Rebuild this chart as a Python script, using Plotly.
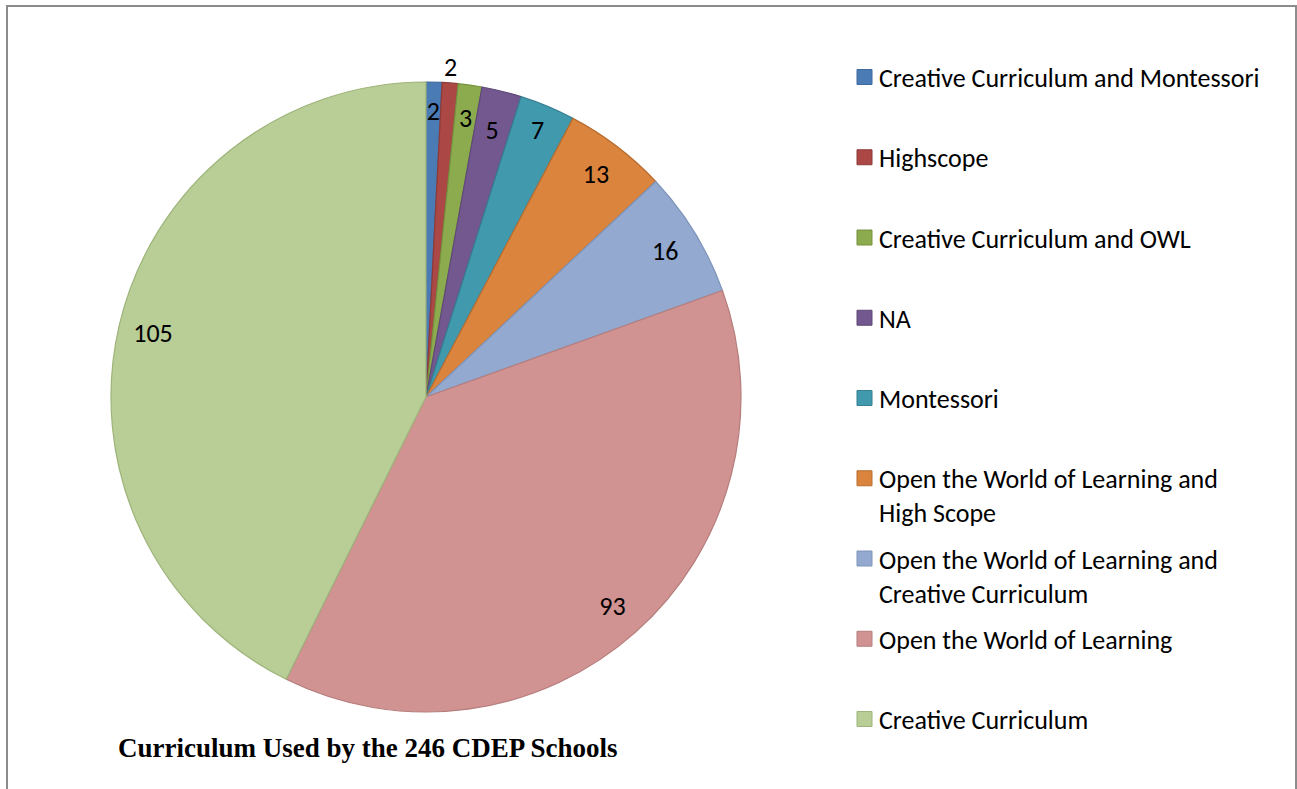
import plotly.graph_objects as go

# ---- data ----
labels = [
    "Creative Curriculum and Montessori",
    "Highscope",
    "Creative Curriculum and OWL",
    "NA",
    "Montessori",
    "Open the World of Learning and High Scope",
    "Open the World of Learning and Creative Curriculum",
    "Open the World of Learning",
    "Creative Curriculum",
]
legend_text = [
    "Creative Curriculum and Montessori",
    "Highscope",
    "Creative Curriculum and OWL",
    "NA",
    "Montessori",
    "Open the World of Learning and<br>High Scope",
    "Open the World of Learning and<br>Creative Curriculum",
    "Open the World of Learning",
    "Creative Curriculum",
]
values = [2, 2, 3, 5, 7, 13, 16, 93, 105]
# where each value label sits: rim ring (wide slices), inner ring (thin slices), outside
rim_positions = ["none", "none", "none", "none", "inside",
                 "inside", "inside", "inside", "inside"]
inner_positions = ["inside", "none", "inside", "inside", "none",
                   "none", "none", "none", "none"]
outer_positions = ["none", "outside", "none", "none", "none",
                   "none", "none", "none", "none"]
title_text = "Curriculum Used by the 246 CDEP Schools"

# ---- styles ----
fills = ["#4A7BB5", "#AB4744", "#8CAB4E", "#73588F", "#4199AE",
         "#DB843D", "#93A9CF", "#D19392", "#B9CD96"]
edges = ["#3E6A9E", "#8E3A38", "#76913F", "#5F4977", "#357F91",
         "#B86D30", "#7E94BA", "#B57D7C", "#9DB47A"]

W, H = 1297, 789
FONT = "Carlito, Calibri, Lato, sans-serif"
FS = 26
CX, CY, R = 426, 397, 315      # pie centre / radius in pixels
R_INNER = 293                  # radius of the ring carrying thin-slice labels

def px(x):
    return x / W

def py(y):
    return 1 - y / H

def dom(r, dx=0):
    return dict(x=[px(CX + dx - r), px(CX + dx + r)], y=[py(CY + r), py(CY - r)])

fig = go.Figure()
fig.add_trace(go.Pie(
    labels=labels, values=values, sort=False, direction="clockwise",
    rotation=0, domain=dom(R),
    marker=dict(colors=fills, line=dict(color=edges, width=1.2)),
    textinfo="none", hoverinfo="label+value", showlegend=False,
))
# transparent rings that carry the value labels
for d, hole, pos in [(dom(R), 0.78, rim_positions),
                     (dom(R_INNER), 0.6, inner_positions),
                     (dom(R, dx=-14), 0.78, outer_positions)]:
    fig.add_trace(go.Pie(
        labels=labels, values=values, sort=False, direction="clockwise",
        rotation=0, domain=d, hole=hole,
        marker=dict(colors=["rgba(0,0,0,0)"] * len(values), line=dict(width=0)),
        textinfo="value", textposition=pos,
        insidetextorientation="horizontal",
        textfont=dict(family=FONT, size=FS, color="black"),
        hoverinfo="skip", showlegend=False,
    ))

shapes = [dict(type="rect", xref="paper", yref="paper",
               x0=px(7), x1=px(1296), y0=-0.2, y1=py(6),
               line=dict(color="#8C8C8C", width=2), fillcolor="rgba(0,0,0,0)")]
annotations = []
y0, step, sq = 77, 80.25, 15
for i, (txt, fc, ec) in enumerate(zip(legend_text, fills, edges)):
    yc = y0 + i * step
    shapes.append(dict(type="rect", xref="paper", yref="paper",
                       x0=px(857), x1=px(857 + sq), y0=py(yc + sq / 2), y1=py(yc - sq / 2),
                       fillcolor=fc, line=dict(color=ec, width=1)))
    annotations.append(dict(text=txt, xref="paper", yref="paper",
                            x=px(877), y=py(yc - 17), xanchor="left", yanchor="top",
                            align="left", showarrow=False,
                            font=dict(family=FONT, size=FS, color="black")))
annotations.append(dict(text="<b>" + title_text + "</b>", xref="paper", yref="paper",
                        x=px(116), y=py(748), xanchor="left", yanchor="middle",
                        showarrow=False,
                        font=dict(family="Liberation Serif, Times New Roman, serif",
                                  size=27, color="black")))

fig.update_layout(
    width=W, height=H, margin=dict(l=0, r=0, t=0, b=0),
    paper_bgcolor="white", plot_bgcolor="white",
    shapes=shapes, annotations=annotations,
    uniformtext=dict(minsize=FS, mode="show"),
)
fig.write_html("out.html", config={"displayModeBar": False},
               post_script="document.body.style.margin='0';")
